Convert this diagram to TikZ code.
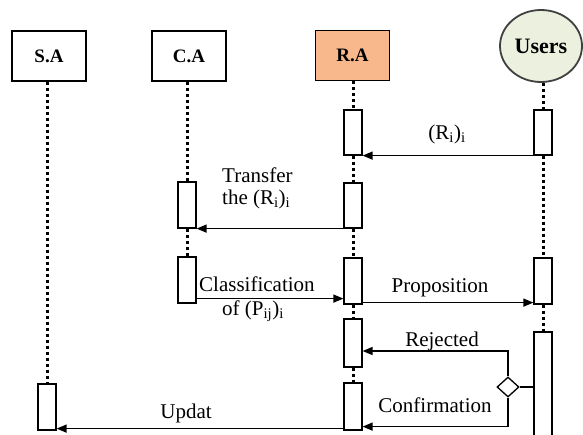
\documentclass[tikz,border=0pt]{standalone}
\usepackage{fontspec}
\setmainfont{Liberation Serif}
\usetikzlibrary{shapes.geometric,arrows.meta}

\definecolor{raFill}{RGB}{248,184,139}
\definecolor{usFill}{RGB}{235,241,222}
\definecolor{usLine}{RGB}{64,64,64}

\tikzset{
  head/.style={draw, line width=1.8pt, minimum width=74pt, minimum height=50pt,
    inner sep=0pt, font=\fontsize{19}{21}\selectfont\bfseries},
  act/.style={draw, line width=1.2pt, fill=white, minimum width=18pt, inner sep=0pt},
  life/.style={line width=3pt, dash pattern=on 3pt off 3pt},
  msg/.style={line width=1.4pt, -{Triangle[length=10pt,width=8pt]}},
  plain/.style={line width=1.3pt},
  lbl/.style={font=\fontsize{21}{24}\selectfont, inner sep=0pt},
}

\begin{document}
\begin{tikzpicture}[x=1pt, y=-1pt]
  \useasboundingbox (0,0) rectangle (583,434);
  \fill[white] (0,0) rectangle (583,434);
  \clip (0,0) rectangle (583,434);

  % lifeline heads
  \node[head] (SAh) at (49,56) {S.A};
  \node[head] (CAh) at (189,56) {C.A};
  \node[head, fill=raFill] (RAh) at (352.5,55.5) {R.A};
  \node[ellipse, draw=usLine, fill=usFill, line width=1.8pt, minimum width=82pt,
        minimum height=72pt, inner sep=0pt, font=\fontsize{22}{24}\selectfont\bfseries]
        (USh) at (541,46) {Users};

  % activation bars
  \node[act, minimum height=45pt] (RA1) at (353,132.5) {};
  \node[act, minimum height=45pt] (US1) at (543,132.5) {};
  \node[act, minimum height=45pt] (RA2) at (353,205.5) {};
  \node[act, minimum height=46pt] (CA1) at (187,205) {};
  \node[act, minimum height=46pt] (CA2) at (187,280) {};
  \node[act, minimum height=46pt] (RA3) at (353,281) {};
  \node[act, minimum height=46pt] (US2) at (543,281) {};
  \node[act, minimum height=48pt] (RA4) at (353,343) {};
  \node[act, minimum height=47pt] (RA5) at (353,406.5) {};
  \node[act, minimum height=114pt] (US3) at (543,389) {};
  \node[act, minimum height=46pt] (SA1) at (47,407) {};

  % dotted lifelines
  \draw[life] (SA1.north |- SAh.south) -- (SA1.north);
  \draw[life] (CA1.north |- CAh.south) -- (CA1.north);
  \draw[life] (CA1.south) -- (CA2.north);
  \draw[life] (RA1.north |- RAh.south) -- (RA1.north);
  \draw[life] (RA1.south) -- (RA2.north);
  \draw[life] (RA2.south) -- (RA3.north);
  \draw[life] (RA3.south) -- (RA4.north);
  \draw[life] (RA4.south) -- (RA5.north);
  \draw[life] (US1.north |- USh.south) -- (US1.north);
  \draw[life] (US1.south) -- (US2.north);
  \draw[life] (US2.south) -- (US3.north);

  % decision
  \node[diamond, draw, line width=1.3pt, fill=white, minimum width=22pt,
        minimum height=20pt, inner sep=0pt] (D) at (508,387) {};
  \draw[plain] (D.east) -- (D.east -| US3.west);

  % messages
  \draw[msg] (US1.south west) -- (RA1.south east);
  \draw[msg] (RA2.south west) -- (CA1.south east);
  \draw[msg] ([yshift=5pt]CA2.south east) -- ([yshift=6pt]RA3.south west);
  \draw[msg] ([yshift=2pt]RA3.south east) -- ([yshift=2pt]US2.south west);
  \draw[msg] (D.north) |- ([yshift=-8pt]RA4.east);
  \draw[msg] (D.south) |- ([yshift=4pt]RA5.south east);
  \draw[msg] ([yshift=2pt]RA5.south west) -- ([yshift=2pt]SA1.south east);

  % message labels
  \node[lbl, anchor=base] (t1) at (447,139) {(R\textsubscript{i})\textsubscript{i}};
  \node[lbl, anchor=base west] (t2) at (222,182) {Transfer};
  \node[lbl, anchor=base west] (t3) at (222,204) {the (R\textsubscript{i})\textsubscript{i}};
  \node[lbl, anchor=base west] (t4) at (199,291) {Classification};
  \node[lbl, anchor=base] (t5) at (253,315) {of (P\textsubscript{ij})\textsubscript{i}};
  \node[lbl, anchor=base] (t6) at (440,292) {Proposition};
  \node[lbl, anchor=base] (t7) at (442,346) {Rejected};
  \node[lbl, anchor=base] (t8) at (435,412) {Confirmation};
  \node[lbl, anchor=base] (t9) at (186,418) {Updat};
\end{tikzpicture}
\end{document}
